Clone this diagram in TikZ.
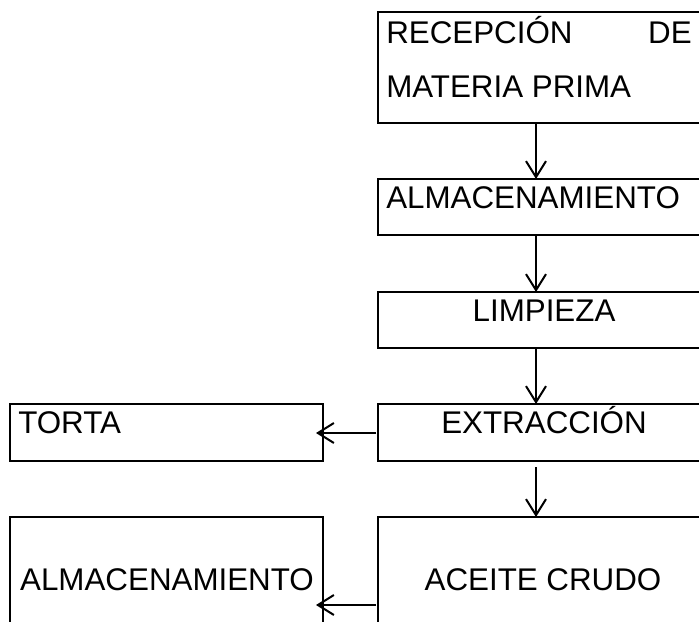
\documentclass[tikz,border=0pt]{standalone}
\usepackage{fontspec}
\setmainfont{Liberation Sans}
\usetikzlibrary{arrows.meta}
\begin{document}
\begin{tikzpicture}[x=0.75pt,y=-0.75pt,
  box/.style={draw,line width=2.2pt},
  txt/.style={inner sep=0pt,font=\fontsize{23.5pt}{28pt}\selectfont},
  flow/.style={line width=1.5pt,-{Straight Barb[length=12pt,width=15pt,line width=1.5pt]}}]
\useasboundingbox (0,0) rectangle (699,621);
\clip (0,0) rectangle (699,621);
% boxes
\draw[box] (378,12) rectangle (710,123);
\draw[box] (378,179) rectangle (710,235);
\draw[box] (378,292) rectangle (710,348);
\draw[box] (378,404) rectangle (710,461);
\draw[box] (10,404) rectangle (323,461);
\draw[box] (378,517) rectangle (710,640);
\draw[box] (10,517) rectangle (323,640);
% texts
\node[txt,anchor=base west] (t1a) at (386,43) {RECEPCIÓN};
\node[txt,anchor=base east] (t1b) at (692,43) {DE};
\node[txt,anchor=base west] (t1c) at (386,97) {MATERIA PRIMA};
\node[txt,anchor=base west] (t2) at (386,208) {ALMACENAMIENTO};
\node[txt,anchor=base] (t3) at (544,321) {LIMPIEZA};
\node[txt,anchor=base] (t4) at (544,433) {EXTRACCIÓN};
\node[txt,anchor=base west] (t5) at (18,433) {TORTA};
\node[txt,anchor=base] (t6) at (543,590) {ACEITE CRUDO};
\node[txt,anchor=base] (t7) at (167,590) {ALMACENAMIENTO};
% connector endpoints
\coordinate (a1) at (536,124); \coordinate (b1) at (536,179);
\coordinate (a2) at (536,236); \coordinate (b2) at (536,292);
\coordinate (a3) at (536,349); \coordinate (b3) at (536,404);
\coordinate (a4) at (536,467); \coordinate (b4) at (536,517);
\coordinate (a5) at (376,433); \coordinate (b5) at (316,433);
\coordinate (a6) at (376,605); \coordinate (b6) at (316,605);
\draw[flow] (a1) -- (b1);
\draw[flow] (a2) -- (b2);
\draw[flow] (a3) -- (b3);
\draw[flow] (a4) -- (b4);
\draw[flow] (a5) -- (b5);
\draw[flow] (a6) -- (b6);
\end{tikzpicture}
\end{document}
